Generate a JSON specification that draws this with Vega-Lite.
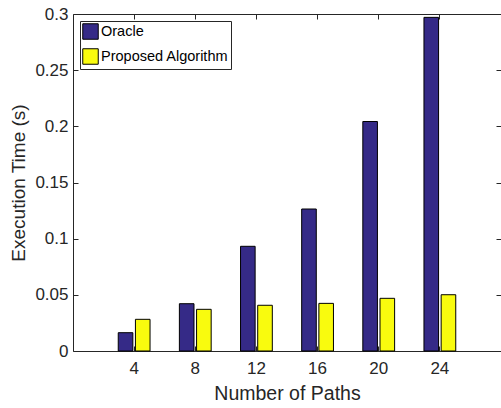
{
  "$schema": "https://vega.github.io/schema/vega-lite/v6.json",
  "autosize": {"type": "none"},
  "padding": {"left": 73, "top": 14, "right": 0, "bottom": 57},
  "width": 428,
  "height": 337,
  "background": "white",
  "config": {
    "font": "Liberation Sans",
    "view": {"stroke": null},
    "axis": {
      "domainColor": "#262626",
      "tickColor": "#262626",
      "labelColor": "#262626",
      "titleColor": "#262626",
      "labelFont": "Liberation Sans",
      "titleFont": "Liberation Sans",
      "titleFontWeight": "normal",
      "grid": false
    }
  },
  "data": {
    "values": [
      {"Paths": 4, "Method": "Oracle", "Time": 0.0163},
      {"Paths": 4, "Method": "Proposed Algorithm", "Time": 0.0282},
      {"Paths": 8, "Method": "Oracle", "Time": 0.0421},
      {"Paths": 8, "Method": "Proposed Algorithm", "Time": 0.0371},
      {"Paths": 12, "Method": "Oracle", "Time": 0.0932},
      {"Paths": 12, "Method": "Proposed Algorithm", "Time": 0.0407},
      {"Paths": 16, "Method": "Oracle", "Time": 0.1264},
      {"Paths": 16, "Method": "Proposed Algorithm", "Time": 0.0424},
      {"Paths": 20, "Method": "Oracle", "Time": 0.2043},
      {"Paths": 20, "Method": "Proposed Algorithm", "Time": 0.0469},
      {"Paths": 24, "Method": "Oracle", "Time": 0.297},
      {"Paths": 24, "Method": "Proposed Algorithm", "Time": 0.0501}
    ]
  },
  "encoding": {
    "x": {
      "field": "Paths",
      "type": "ordinal",
      "scale": {"paddingInner": 0.48, "paddingOuter": 0.74},
      "axis": {
        "title": "Number of Paths",
        "labelAngle": 0,
        "labelFontSize": 17,
        "titleFontSize": 19.5,
        "tickSize": -5,
        "labelPadding": 14,
        "titlePadding": 8
      }
    },
    "y": {
      "field": "Time",
      "type": "quantitative",
      "scale": {"domain": [0, 0.3], "nice": false},
      "axis": {
        "title": "Execution Time (s)",
        "values": [0, 0.05, 0.1, 0.15, 0.2, 0.25, 0.3],
        "format": "~g",
        "labelFontSize": 17,
        "titleFontSize": 19,
        "tickSize": -5,
        "labelPadding": 10,
        "titlePadding": 6
      }
    }
  },
  "layer": [
    {
      "mark": {"type": "bar", "stroke": "black", "strokeWidth": 1},
      "encoding": {
        "xOffset": {"field": "Method", "type": "nominal", "scale": {"paddingInner": 0.15}},
        "color": {
          "field": "Method",
          "type": "nominal",
          "scale": {"domain": ["Oracle", "Proposed Algorithm"], "range": ["#352A87", "#F9FB0E"]},
          "legend": {
            "title": null,
            "orient": "none",
            "legendX": 7,
            "legendY": 7,
            "padding": 2,
            "strokeColor": "#262626",
            "fillColor": "white",
            "symbolType": "square",
            "symbolSize": 240,
            "symbolStrokeColor": "black",
            "symbolStrokeWidth": 1,
            "symbolOpacity": 1,
            "labelFontSize": 14.5,
            "labelFont": "Liberation Sans",
            "labelColor": "black",
            "labelOffset": 2,
            "rowPadding": 4
          }
        }
      }
    },
    {
      "mark": {"type": "tick", "opacity": 0},
      "encoding": {
        "x": {
          "field": "Paths",
          "type": "ordinal",
          "axis": {"orient": "top", "labels": false, "title": null, "tickSize": -5}
        },
        "y": {
          "field": "Time",
          "type": "quantitative",
          "axis": {"orient": "right", "labels": false, "title": null, "domain": false, "tickSize": -5, "values": [0, 0.05, 0.1, 0.15, 0.2, 0.25, 0.3]}
        }
      }
    }
  ],
  "resolve": {"axis": {"x": "independent", "y": "independent"}}
}
